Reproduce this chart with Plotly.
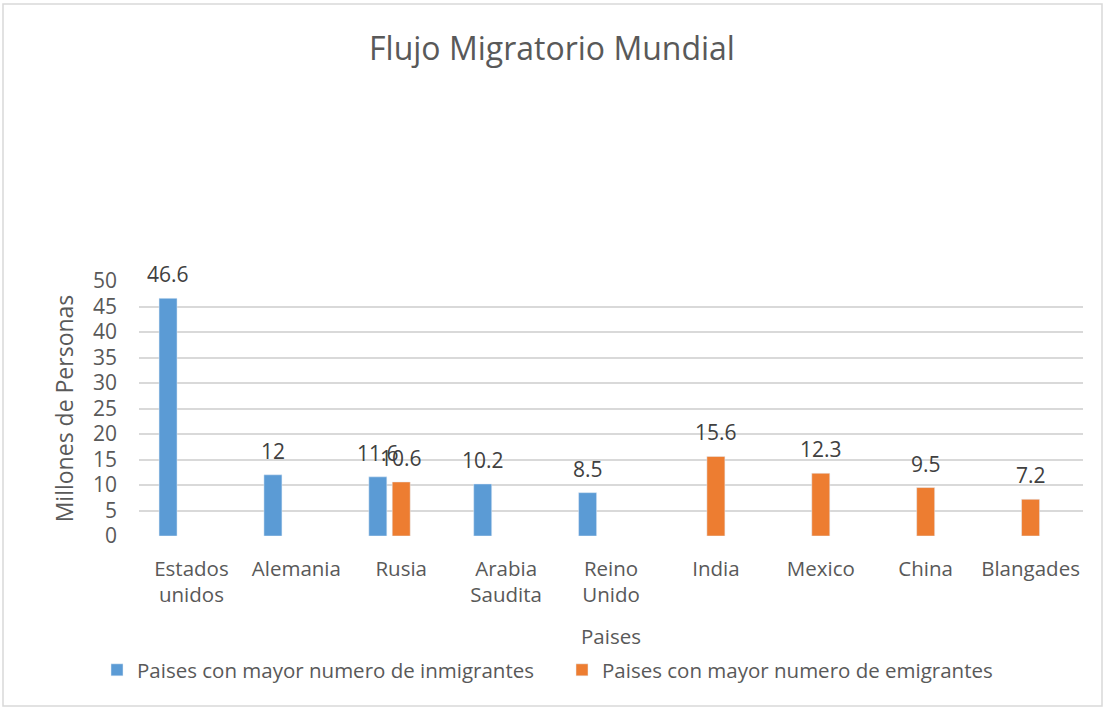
import plotly.graph_objects as go

categories = ["Estados<br>unidos", "Alemania", "Rusia", "Arabia<br>Saudita", "Reino<br>Unido",
              "India", "Mexico", "China", "Blangades"]
inmigrantes = [46.6, 12, 11.6, 10.2, 8.5, None, None, None, None]
emigrantes = [None, None, 10.6, None, None, 15.6, 12.3, 9.5, 7.2]
y_ticks = [0, 5, 10, 15, 20, 25, 30, 35, 40, 45, 50]

W, H = 1104, 709
L, R, T, B = 139, 21, 281, 173
pw = W - L - R
ph = H - T - B
cat_px = pw / len(categories)

FONT = "Open Sans"
TXT = "#595959"
BLUE = "#5B9BD5"
ORANGE = "#ED7D31"

bar_w = 18 / cat_px
slot = 23.4 / cat_px

fig = go.Figure()
fig.add_trace(go.Bar(x=categories, y=inmigrantes, name="Paises con mayor numero de inmigrantes",
                     marker_color=BLUE, width=bar_w, offset=-slot - bar_w / 2))
fig.add_trace(go.Bar(x=categories, y=emigrantes, name="Paises con mayor numero de emigrantes",
                     marker_color=ORANGE, width=bar_w, offset=-bar_w / 2))

annotations = []
for series, shift in ((inmigrantes, -23.4), (emigrantes, 0)):
    for c, v in zip(categories, series):
        if v is None:
            continue
        annotations.append(dict(x=c, y=v, xref="x", yref="y", text=f"{v:g}", showarrow=False,
                                xshift=shift, yanchor="bottom", yshift=8,
                                font=dict(family=FONT, size=21, color="#404040")))

fig.update_layout(
    width=W, height=H,
    margin=dict(l=L, r=R, t=T, b=B),
    paper_bgcolor="white", plot_bgcolor="white",
    barmode="overlay",
    title=dict(text="Flujo Migratorio Mundial", x=0.5, xref="container", xanchor="center",
               y=1 - 49 / H, yref="container", yanchor="middle",
               font=dict(family=FONT, size=32, color=TXT)),
    font=dict(family=FONT, color=TXT),
    xaxis=dict(showgrid=False, showline=False, zeroline=False, ticks="", ticklabelstandoff=18,
               tickfont=dict(family=FONT, size=20.5, color=TXT),
               title=dict(text="Paises", font=dict(family=FONT, size=20.5, color=TXT), standoff=22)),
    yaxis=dict(range=[0, 50], tickvals=y_ticks, showgrid=True, gridcolor="#D9D9D9", gridwidth=1.5,
               zeroline=False, showline=False, ticklabelstandoff=21,
               tickfont=dict(family=FONT, size=21, color=TXT),
               title=dict(text="Millones de Personas", font=dict(family=FONT, size=23, color=TXT),
                          standoff=12)),
    legend=dict(orientation="h", x=(562 - L) / pw, xanchor="center", y=(536 - 670) / ph, yanchor="middle",
                font=dict(family=FONT, size=20.5, color=TXT), itemwidth=30, traceorder="normal",
                entrywidth=420, entrywidthmode="pixels"),
    annotations=annotations,
    shapes=[dict(type="rect", xref="paper", yref="paper",
                 x0=(3 - L) / pw, x1=(1102 - L) / pw, y0=(536 - 706) / ph, y1=(536 - 4) / ph,
                 line=dict(color="#D9D9D9", width=1.5), fillcolor="rgba(0,0,0,0)", layer="below")],
    showlegend=True,
)

fig.write_html("out.html", config={"displayModeBar": False},
               post_script="document.body.style.margin='0';document.body.style.overflow='hidden';")
